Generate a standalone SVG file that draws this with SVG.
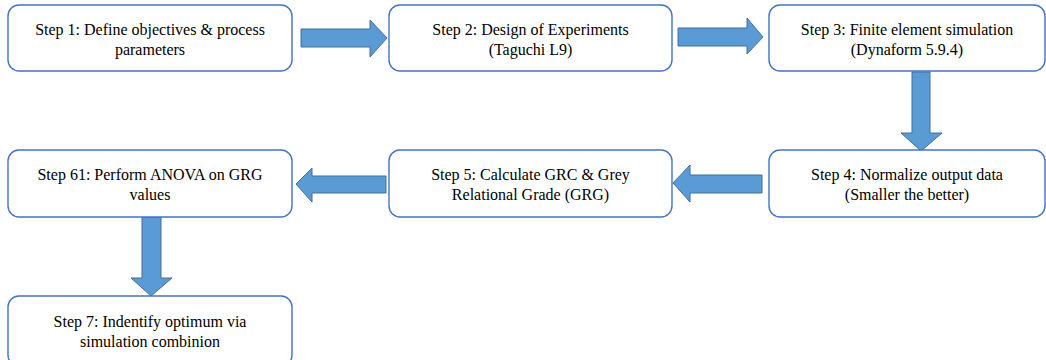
<svg xmlns="http://www.w3.org/2000/svg" width="1046" height="360" viewBox="0 0 1046 360">
<style>
.box{fill:#ffffff;stroke:#4472C4;stroke-width:1.4}
.arr{fill:#5B9BD5;stroke:#41719C;stroke-width:1}
text{font-family:"Liberation Serif","Times New Roman",serif;font-size:16px;fill:#000000;text-anchor:middle}
</style>
<rect width="1046" height="360" fill="#ffffff"/>
<g id="connectors">
<polygon class="arr" points="301,29 370,29 370,20 387,38 370,57 370,47 301,47"/>
<polygon class="arr" points="678,28 747,28 747,18 763,37 747,54 747,46 678,46"/>
<polygon class="arr" points="912,72 930,72 930,133 942,133 921,151 901,133 912,133"/>
<polygon class="arr" points="762,175 690,175 690,165 673,183 690,202 690,193 762,193"/>
<polygon class="arr" points="386,176 312,176 312,168 296,184 312,202 312,193 386,193"/>
<polygon class="arr" points="142,217 161,217 161,278 172,278 151,296 131,278 142,278"/>
</g>
<g id="step1"><rect class="box" x="8" y="5" width="284" height="66" rx="11"/><text x="150" y="35">Step 1: Define objectives &amp; process</text><text x="150" y="55">parameters</text></g>
<g id="step2"><rect class="box" x="389" y="5" width="283" height="66" rx="11"/><text x="530.5" y="35">Step 2: Design of Experiments</text><text x="530.5" y="55">(Taguchi L9)</text></g>
<g id="step3"><rect class="box" x="769" y="5" width="276" height="66" rx="11"/><text x="907" y="35">Step 3: Finite element simulation</text><text x="907" y="55">(Dynaform 5.9.4)</text></g>
<g id="step4"><rect class="box" x="769" y="150" width="276" height="67" rx="11"/><text x="907" y="180">Step 4: Normalize output data</text><text x="907" y="200">(Smaller the better)</text></g>
<g id="step5"><rect class="box" x="389" y="150" width="283" height="67" rx="11"/><text x="530.5" y="180">Step 5: Calculate GRC &amp; Grey</text><text x="530.5" y="200">Relational Grade (GRG)</text></g>
<g id="step6"><rect class="box" x="8" y="150" width="284" height="67" rx="11"/><text x="150" y="180">Step 61: Perform ANOVA on GRG</text><text x="150" y="200">values</text></g>
<g id="step7"><rect class="box" x="8" y="296" width="284" height="70" rx="11"/><text x="150" y="327">Step 7: Indentify optimum via</text><text x="150" y="347">simulation combinion</text></g>
</svg>
